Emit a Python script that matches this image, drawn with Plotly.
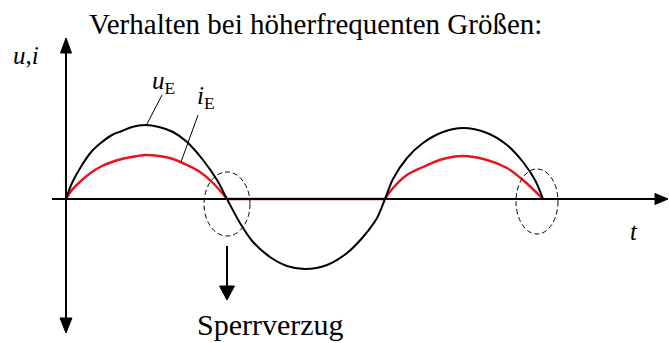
import plotly.graph_objects as go

# ---- data (t: time units, values: arbitrary units) ----
u_t1 = [0, 6, 16, 26, 36, 46, 56, 66, 79, 93, 107, 121, 137, 151, 161]
u_v1 = [0, 16, 34, 48, 57, 64, 68, 72, 74, 72, 67, 57, 39, 19, 0]
u_t2 = [174, 187, 204, 221, 239, 261, 281, 297, 311, 319]
u_v2 = [-24, -43, -58, -67, -70, -66, -54, -38, -19, 0]
u_t3 = [327, 341, 357, 377, 397, 421, 441, 457, 469, 477]
u_v3 = [20, 41, 56, 67, 71, 66, 54, 37, 19, 0]

i_t1 = [0, 6, 16, 26, 36, 46, 56, 66, 79, 93, 107, 121, 134, 147, 161]
i_v1 = [0, 9, 19, 27, 33, 37, 40, 42, 44, 43, 40, 34, 27, 16, 0]
i_t2 = [319]
i_v2 = [0]
i_t3 = [327, 341, 357, 377, 397, 421, 441, 457, 477]
i_v3 = [11, 24, 32, 40, 43, 39, 31, 19, 0]

u_t = u_t1 + u_t2 + u_t3
u_v = u_v1 + u_v2 + u_v3

title_text = "Verhalten bei höherfrequenten Größen:"
y_label = "<i>u</i>,<i>i</i>"
x_label = "<i>t</i>"
u_label = "<i>u</i><sub>E</sub>"
i_label = "<i>i</i><sub>E</sub>"
sperr_label = "Sperrverzug"

W, H = 669, 343
OX, OY = 66, 199  # pixel position of origin


def X(p):
    return p - OX


def Y(p):
    return OY - p


FONT = "Liberation Serif"

fig = go.Figure()

# red current: humps + flat blocking segment
fig.add_trace(go.Scatter(x=i_t1, y=i_v1, mode="lines",
                         line=dict(color="#e8141c", width=2.4, shape="spline", smoothing=0.9),
                         hoverinfo="skip"))
fig.add_trace(go.Scatter(x=[i_t1[-1]] + i_t2, y=[i_v1[-1]] + i_v2, mode="lines",
                         line=dict(color="#e8141c", width=2.6), hoverinfo="skip"))
fig.add_trace(go.Scatter(x=i_t2 + i_t3, y=i_v2 + i_v3, mode="lines",
                         line=dict(color="#e8141c", width=2.4, shape="spline", smoothing=0.9),
                         hoverinfo="skip"))
# black voltage curve
fig.add_trace(go.Scatter(x=u_t, y=u_v, mode="lines",
                         line=dict(color="black", width=2, shape="spline", smoothing=0.9),
                         hoverinfo="skip"))

shapes = []
# axes lines
shapes.append(dict(type="line", x0=X(52), y0=Y(199), x1=X(656), y1=Y(199),
                   line=dict(color="black", width=2)))
shapes.append(dict(type="line", x0=X(66), y0=Y(50), x1=X(66), y1=Y(320),
                   line=dict(color="black", width=2)))


def tri(pts):
    d = "M " + " L ".join(f"{X(a)},{Y(b)}" for a, b in pts) + " Z"
    return dict(type="path", path=d, fillcolor="black", line=dict(color="black", width=1))


shapes.append(tri([(668, 199), (655, 193.5), (655, 204.5)]))
shapes.append(tri([(66, 38), (60.5, 53), (71.5, 53)]))
shapes.append(tri([(66, 333), (60, 318), (72, 318)]))
# down arrow for Sperrverzug
shapes.append(dict(type="line", x0=X(227), y0=Y(246), x1=X(227), y1=Y(288),
                   line=dict(color="black", width=2)))
shapes.append(tri([(227, 300), (219.5, 286), (234.5, 286)]))
# dashed ellipses
shapes.append(dict(type="circle", x0=X(204), x1=X(250), y0=Y(172), y1=Y(236),
                   line=dict(color="black", width=1, dash="5px,3px")))
shapes.append(dict(type="circle", x0=X(516), x1=X(558), y0=Y(169), y1=Y(234),
                   line=dict(color="black", width=1, dash="5px,3px")))
# leader lines
shapes.append(dict(type="line", x0=X(147), y0=Y(124), x1=X(162), y1=Y(95),
                   line=dict(color="black", width=1)))
shapes.append(dict(type="line", x0=X(181), y0=Y(162), x1=X(198), y1=Y(115),
                   line=dict(color="black", width=1)))

ann = []


def txt(text, x, y, size, xanchor="center", yanchor="middle"):
    ann.append(dict(text=text, x=X(x), y=Y(y), xref="x", yref="y", showarrow=False,
                    font=dict(family=FONT, size=size, color="black"),
                    xanchor=xanchor, yanchor=yanchor))


txt(title_text, 315, 24, 29)
txt(y_label, 26, 55, 25)
txt(x_label, 634, 231, 25)
txt(u_label, 163, 82, 25)
txt(i_label, 206, 97, 25)
txt(sperr_label, 270, 324, 30)

fig.update_layout(
    width=W, height=H,
    margin=dict(l=0, r=0, t=0, b=0),
    paper_bgcolor="white", plot_bgcolor="white",
    showlegend=False,
    xaxis=dict(range=[X(0), X(W)], visible=False, fixedrange=True),
    yaxis=dict(range=[Y(H), Y(0)], visible=False, fixedrange=True),
    shapes=shapes,
    annotations=ann,
)

fig.write_html("out.html", config={"displayModeBar": False},
               post_script="document.body.style.margin='0';")
